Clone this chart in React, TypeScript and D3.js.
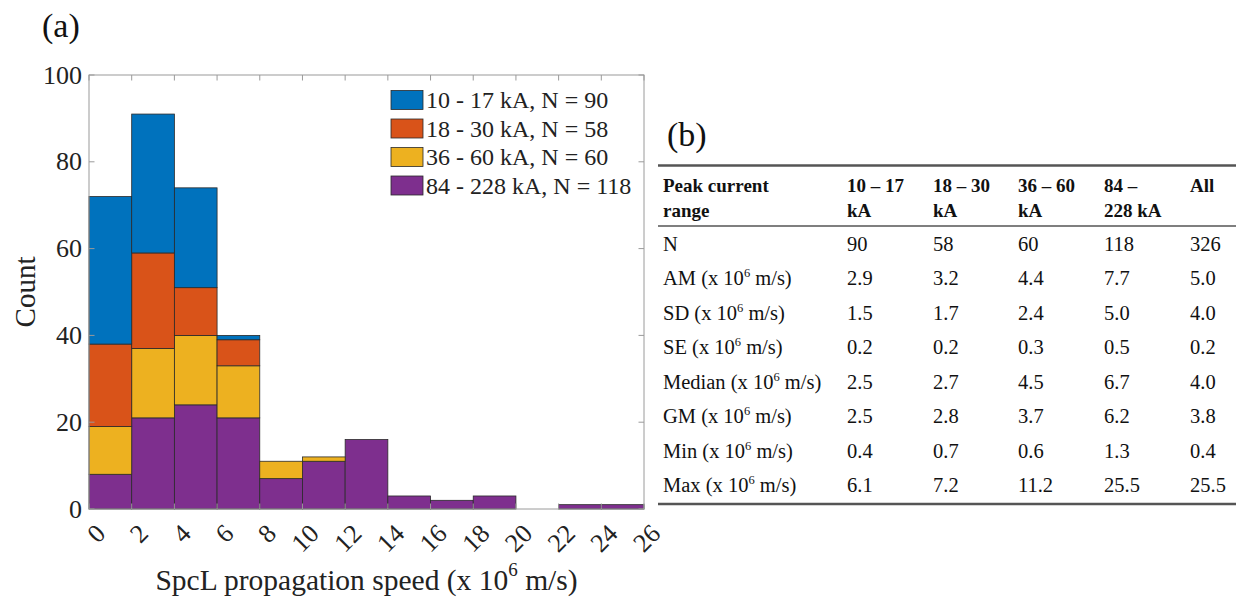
import React from 'react';
import * as d3 from 'd3';

// histogram bins (x 10^6 m/s)
const binStarts = [0, 2, 4, 6, 8, 10, 12, 14, 16, 18, 20, 22, 24];
const binWidth = 2;
const xTicks = [0, 2, 4, 6, 8, 10, 12, 14, 16, 18, 20, 22, 24, 26];
const yTicks = [0, 20, 40, 60, 80, 100];

// counts per peak current class
const counts10to17 = [34, 32, 23, 1, 0, 0, 0, 0, 0, 0, 0, 0, 0];
const counts18to30 = [19, 22, 11, 6, 0, 0, 0, 0, 0, 0, 0, 0, 0];
const counts36to60 = [11, 16, 16, 12, 4, 1, 0, 0, 0, 0, 0, 0, 0];
const counts84to228 = [8, 21, 24, 21, 7, 11, 16, 3, 2, 3, 0, 1, 1];

const seriesNames = ['10 - 17 kA, N = 90', '18 - 30 kA, N = 58', '36 - 60 kA, N = 60', '84 - 228 kA, N = 118'];
const seriesColors = ['#0072BD', '#D95319', '#EDB120', '#7E2F8E'];

// table (b)
const headerLines = [
  ['Peak current', 'range'],
  ['10 – 17', 'kA'],
  ['18 – 30', 'kA'],
  ['36 – 60', 'kA'],
  ['84 –', '228 kA'],
  ['All', ''],
];
const rowNames = ['N', 'AM', 'SD', 'SE', 'Median', 'GM', 'Min', 'Max'];
const rowHasUnit = [false, true, true, true, true, true, true, true];
const col10to17 = ['90', '2.9', '1.5', '0.2', '2.5', '2.5', '0.4', '6.1'];
const col18to30 = ['58', '3.2', '1.7', '0.2', '2.7', '2.8', '0.7', '7.2'];
const col36to60 = ['60', '4.4', '2.4', '0.3', '4.5', '3.7', '0.6', '11.2'];
const col84to228 = ['118', '7.7', '5.0', '0.5', '6.7', '6.2', '1.3', '25.5'];
const colAll = ['326', '5.0', '4.0', '0.2', '4.0', '3.8', '0.4', '25.5'];

const font = '"Liberation Serif", "Times New Roman", serif';

export default function App() {
  const margin = { left: 89, right: 644, top: 75, bottom: 509 };
  const x = d3.scaleLinear().domain([0, 26]).range([margin.left, margin.right]);
  const y = d3.scaleLinear().domain([0, 100]).range([margin.bottom, margin.top]);

  const rows = binStarts.map((b, i) => ({
    start: b,
    s0: counts10to17[i],
    s1: counts18to30[i],
    s2: counts36to60[i],
    s3: counts84to228[i],
  }));
  // purple at the bottom, blue on top
  const stacked = d3.stack<any>().keys(['s3', 's2', 's1', 's0'])(rows);
  const colorOf: Record<string, string> = { s0: seriesColors[0], s1: seriesColors[1], s2: seriesColors[2], s3: seriesColors[3] };

  const axisColor = '#9a9a9a';
  const tickLen = 5.5;

  // table layout
  const tableLeft = 658;
  const tableRight = 1236;
  const colX = [663, 847, 933, 1018, 1104, 1190];
  const rowY = d3.scaleLinear().domain([0, 7]).range([251, 492]);
  const dataCols = [col10to17, col18to30, col36to60, col84to228, colAll];

  return (
    <svg width={1236} height={601} style={{ position: 'absolute', left: 0, top: 0, background: '#fff' }} fontFamily={font}>
      <text x={42} y={37} fontSize={34} fill="#111">(a)</text>

      {/* bars */}
      {stacked.map((layer) => (
        <g key={layer.key} fill={colorOf[layer.key]}>
          {layer.map((d, i) =>
            d[1] - d[0] > 0 ? (
              <rect
                key={i}
                x={x(d.data.start)}
                width={x(d.data.start + binWidth) - x(d.data.start)}
                y={y(d[1])}
                height={y(d[0]) - y(d[1])}
                stroke="#2a2a2a"
                strokeWidth={0.8}
              />
            ) : null
          )}
        </g>
      ))}

      {/* axes box */}
      <rect x={margin.left} y={margin.top} width={margin.right - margin.left} height={margin.bottom - margin.top} fill="none" stroke={axisColor} strokeWidth={1} />
      {xTicks.map((t) => (
        <g key={'xt' + t} stroke={axisColor}>
          <line x1={x(t)} x2={x(t)} y1={margin.bottom} y2={margin.bottom - tickLen} />
          <line x1={x(t)} x2={x(t)} y1={margin.top} y2={margin.top + tickLen} />
        </g>
      ))}
      {yTicks.map((t) => (
        <g key={'yt' + t} stroke={axisColor}>
          <line x1={margin.left} x2={margin.left + tickLen} y1={y(t)} y2={y(t)} />
          <line x1={margin.right} x2={margin.right - tickLen} y1={y(t)} y2={y(t)} />
        </g>
      ))}
      {yTicks.map((t) => (
        <text key={'yl' + t} x={margin.left - 7} y={y(t)} fontSize={26} textAnchor="end" dominantBaseline="central" fill="#222">
          {t}
        </text>
      ))}
      {xTicks.map((t) => (
        <text
          key={'xl' + t}
          x={x(t) + 12}
          y={529}
          fontSize={26}
          textAnchor="end"
          dominantBaseline="central"
          fill="#222"
          transform={`rotate(-45 ${x(t) + 12} 529)`}
        >
          {t}
        </text>
      ))}

      <text x={25} y={(margin.top + margin.bottom) / 2} fontSize={29} textAnchor="middle" dominantBaseline="central" fill="#222" transform={`rotate(-90 25 ${(margin.top + margin.bottom) / 2})`}>
        Count
      </text>
      <text x={(margin.left + margin.right) / 2} y={590} fontSize={29.5} textAnchor="middle" fill="#222">
        SpcL propagation speed (x 10
        <tspan fontSize={19} dy={-14}>6</tspan>
        <tspan dy={14}> m/s)</tspan>
      </text>

      {/* legend */}
      {seriesNames.map((name, i) => (
        <g key={name}>
          <rect x={391} y={100 + i * 28.5 - 9.5} width={32} height={19} fill={seriesColors[i]} stroke="#2a2a2a" strokeWidth={0.8} />
          <text x={426} y={100 + i * 28.5} fontSize={24} dominantBaseline="central" fill="#222">
            {name}
          </text>
        </g>
      ))}

      {/* table (b) */}
      <text x={667} y={146} fontSize={34} fill="#111">(b)</text>
      <line x1={tableLeft} x2={tableRight} y1={165.5} y2={165.5} stroke="#555" strokeWidth={2.5} />
      <line x1={tableLeft} x2={tableRight} y1={226} y2={226} stroke="#555" strokeWidth={1.3} />
      <line x1={tableLeft} x2={tableRight} y1={504} y2={504} stroke="#555" strokeWidth={2.5} />
      {headerLines.map((lines, c) => (
        <text key={'h' + c} x={colX[c]} fontSize={19} fontWeight="bold" fill="#111">
          <tspan x={colX[c]} y={192}>{lines[0]}</tspan>
          <tspan x={colX[c]} y={217}>{lines[1]}</tspan>
        </text>
      ))}
      {rowNames.map((name, r) => (
        <text key={'r' + r} x={colX[0]} y={rowY(r)} fontSize={20.5} fill="#111">
          {name}
          {rowHasUnit[r] ? (
            <>
              {' (x 10'}
              <tspan fontSize={12.5} dy={-8}>6</tspan>
              <tspan dy={8}> m/s)</tspan>
            </>
          ) : null}
        </text>
      ))}
      {dataCols.map((col, c) =>
        col.map((v, r) => (
          <text key={c + '-' + r} x={colX[c + 1]} y={rowY(r)} fontSize={20.5} fill="#111">
            {v}
          </text>
        ))
      )}
    </svg>
  );
}
